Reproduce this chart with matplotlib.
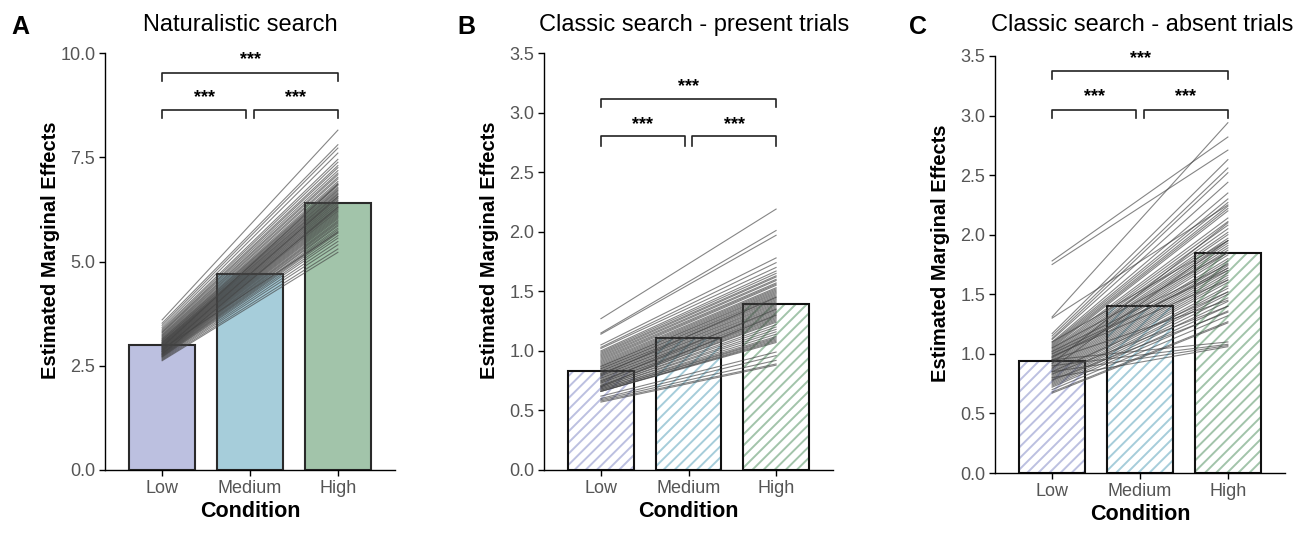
import numpy as np
import matplotlib.pyplot as plt

plt.rcParams['font.family'] = ['Liberation Sans', 'DejaVu Sans']
plt.rcParams['hatch.linewidth'] = 1.4

conditions = ['Low', 'Medium', 'High']
bar_colors = ['#bcc0e0', '#a6cdda', '#a2c4aa']

# mean marginal effects per panel
bars_A = [3.00, 4.70, 6.40]
bars_B = [0.83, 1.11, 1.39]
bars_C = [0.94, 1.40, 1.85]

# per-subject estimates (low, high)
subj_A = [(3.60, 8.15), (3.52, 7.80), (3.47, 7.72), (3.42, 7.60), (3.38, 7.45), (3.35, 7.38),
          (3.32, 7.30), (3.30, 7.25), (3.28, 7.18), (3.25, 7.12), (3.23, 7.08), (3.21, 7.02),
          (3.19, 6.98), (3.17, 6.92), (3.15, 6.88), (3.14, 6.85), (3.12, 6.82), (3.11, 6.78),
          (3.10, 6.75), (3.08, 6.72), (3.07, 6.70), (3.06, 6.67), (3.05, 6.64), (3.04, 6.62),
          (3.03, 6.60), (3.02, 6.57), (3.01, 6.55), (3.00, 6.52), (2.99, 6.50), (2.98, 6.47),
          (2.97, 6.45), (2.96, 6.42), (2.95, 6.40), (2.94, 6.37), (2.93, 6.35), (2.92, 6.32),
          (2.91, 6.30), (2.90, 6.27), (2.89, 6.25), (2.88, 6.22), (2.87, 6.20), (2.86, 6.17),
          (2.85, 6.14), (2.84, 6.11), (2.83, 6.08), (2.82, 6.05), (2.81, 6.02), (2.80, 5.98),
          (2.79, 5.95), (2.78, 5.92), (2.77, 5.88), (2.76, 5.85), (2.75, 5.80), (2.74, 5.76),
          (2.73, 5.72), (2.72, 5.68), (2.71, 5.62), (2.70, 5.56), (2.68, 5.48), (2.66, 5.40),
          (2.64, 5.30), (2.62, 5.22), (2.95, 6.85), (2.85, 6.55), (2.78, 6.30), (2.90, 5.70)]

subj_B = [(1.27, 2.19), (1.15, 2.01), (1.14, 1.97), (1.05, 1.78), (1.03, 1.74), (1.02, 1.70),
          (1.00, 1.67), (0.99, 1.65), (0.98, 1.63), (0.97, 1.62), (0.96, 1.60), (0.95, 1.59),
          (0.94, 1.57), (0.93, 1.56), (0.92, 1.55), (0.91, 1.53), (0.90, 1.52), (0.89, 1.51),
          (0.88, 1.50), (0.87, 1.49), (0.87, 1.48), (0.86, 1.47), (0.85, 1.46), (0.85, 1.45),
          (0.84, 1.44), (0.83, 1.43), (0.83, 1.42), (0.82, 1.41), (0.81, 1.40), (0.81, 1.39),
          (0.80, 1.38), (0.79, 1.37), (0.79, 1.36), (0.78, 1.35), (0.77, 1.34), (0.77, 1.33),
          (0.76, 1.32), (0.75, 1.31), (0.75, 1.30), (0.74, 1.29), (0.73, 1.28), (0.73, 1.27),
          (0.72, 1.26), (0.71, 1.25), (0.71, 1.24), (0.70, 1.22), (0.70, 1.20), (0.69, 1.18),
          (0.69, 1.16), (0.68, 1.14), (0.68, 1.12), (0.67, 1.11), (0.67, 1.10), (0.66, 1.09),
          (0.66, 1.08), (0.66, 1.07), (0.62, 0.99), (0.60, 0.96), (0.59, 0.92), (0.58, 0.89),
          (0.57, 0.88), (0.80, 1.45), (0.74, 1.35), (0.70, 1.30)]

subj_C = [(1.78, 2.82), (1.75, 2.71), (1.31, 2.94), (1.30, 2.25), (1.17, 2.63), (1.15, 2.56),
          (1.13, 2.52), (1.12, 2.44), (1.10, 2.35), (1.09, 2.30), (1.08, 2.27), (1.07, 2.24),
          (1.06, 2.22), (1.05, 2.20), (1.04, 2.14), (1.03, 2.11), (1.02, 2.08), (1.01, 2.05),
          (1.00, 2.02), (0.99, 2.00), (0.98, 1.97), (0.97, 1.95), (0.96, 1.93), (0.95, 1.91),
          (0.94, 1.89), (0.93, 1.87), (0.92, 1.85), (0.91, 1.83), (0.90, 1.80), (0.89, 1.78),
          (0.88, 1.76), (0.87, 1.74), (0.86, 1.72), (0.85, 1.70), (0.84, 1.68), (0.83, 1.66),
          (0.82, 1.64), (0.81, 1.62), (0.80, 1.60), (0.79, 1.57), (0.78, 1.55), (0.77, 1.52),
          (0.76, 1.50), (0.75, 1.47), (0.74, 1.44), (0.73, 1.40), (0.72, 1.36), (0.70, 1.32),
          (0.68, 1.27), (0.67, 1.26), (0.95, 1.10), (0.90, 1.08), (0.85, 1.07), (0.80, 1.06),
          (1.00, 1.70), (0.98, 1.62), (1.05, 1.85), (0.92, 2.10), (0.88, 1.95), (0.85, 1.52),
          (0.83, 1.40), (0.95, 1.45), (1.02, 1.75), (0.78, 1.35), (1.10, 1.95), (0.97, 1.72)]

titles = ['Naturalistic search', 'Classic search - present trials', 'Classic search - absent trials']
letters = ['A', 'B', 'C']

fig = plt.figure(figsize=(13.11, 5.44), dpi=100)
W, H = 1311, 544

def axes_px(left, right, top, bottom):
    return fig.add_axes([left / W, 1 - bottom / H, (right - left) / W, (bottom - top) / H])

axA = axes_px(105, 395, 53, 470)
axB = axes_px(544, 833, 53, 470)
axC = axes_px(995, 1285, 56, 473)

x = np.arange(3)

def style(ax, ymax, yticks):
    ax.set_xlim(-0.65, 2.65)
    ax.set_ylim(0, ymax)
    ax.set_yticks(yticks)
    ax.set_yticklabels(['%.1f' % t for t in yticks])
    ax.set_xticks(x)
    ax.set_xticklabels(conditions)
    for s in ['top', 'right']:
        ax.spines[s].set_visible(False)
    for s in ['left', 'bottom']:
        ax.spines[s].set_linewidth(1.0)
    ax.tick_params(labelsize=13, labelcolor='#555555', length=4, width=1.0, pad=3)
    ax.set_ylabel('Estimated Marginal Effects', fontsize=14.5, fontweight='bold')
    ax.yaxis.set_label_coords(-0.155, 0.527)
    ax.set_xlabel('Condition', fontsize=15.5, fontweight='bold', labelpad=3)

def subjects(ax, subj):
    for lo, hi in subj:
        ax.plot([0, 2], [lo, hi], color='#444444', lw=0.8, alpha=0.65, zorder=3)

def bracket(ax, x1, x2, y, drop, label, ystar):
    ax.plot([x1, x1, x2, x2], [y - drop, y, y, y - drop], color='#222222', lw=1.2, clip_on=False, zorder=4)
    ax.text((x1 + x2) / 2, ystar, label, ha='center', va='center', fontsize=13, fontweight='bold', clip_on=False)

# panel A: solid bars
axA.bar(x, bars_A, width=0.75, color=bar_colors, edgecolor='#2a2a2a', linewidth=1.5, zorder=2)
subjects(axA, subj_A)
style(axA, 10, [0, 2.5, 5.0, 7.5, 10.0])
bracket(axA, 0, 2, 9.52, 0.18, '***', 9.83)
bracket(axA, 0, 0.96, 8.63, 0.2, '***', 8.94)
bracket(axA, 1.04, 2, 8.63, 0.2, '***', 8.94)

# panels B and C: hatched bars
for ax, vals in [(axB, bars_B), (axC, bars_C)]:
    ax.bar(x, vals, width=0.75, color='white', edgecolor=bar_colors, hatch='///', linewidth=0, zorder=2)
    ax.bar(x, vals, width=0.75, color='none', edgecolor='#111111', linewidth=1.5, zorder=2.5)

subjects(axB, subj_B)
style(axB, 3.5, [0, 0.5, 1.0, 1.5, 2.0, 2.5, 3.0, 3.5])
bracket(axB, 0, 2, 3.11, 0.06, '***', 3.22)
bracket(axB, 0, 0.96, 2.80, 0.08, '***', 2.90)
bracket(axB, 1.04, 2, 2.80, 0.08, '***', 2.90)

subjects(axC, subj_C)
style(axC, 3.5, [0, 0.5, 1.0, 1.5, 2.0, 2.5, 3.0, 3.5])
bracket(axC, 0, 2, 3.37, 0.06, '***', 3.48)
bracket(axC, 0, 0.96, 3.05, 0.07, '***', 3.16)
bracket(axC, 1.04, 2, 3.05, 0.07, '***', 3.16)

title_x = [240, 694, 1142]
letter_x = [20, 466, 918]
for t, tx, l, lx in zip(titles, title_x, letters, letter_x):
    fig.text(tx / W, 1 - 25 / H, t, ha='center', va='center', fontsize=17)
    fig.text(lx / W, 1 - 27 / H, l, ha='center', va='center', fontsize=18, fontweight='bold')

fig.savefig('out.png', dpi=100)
